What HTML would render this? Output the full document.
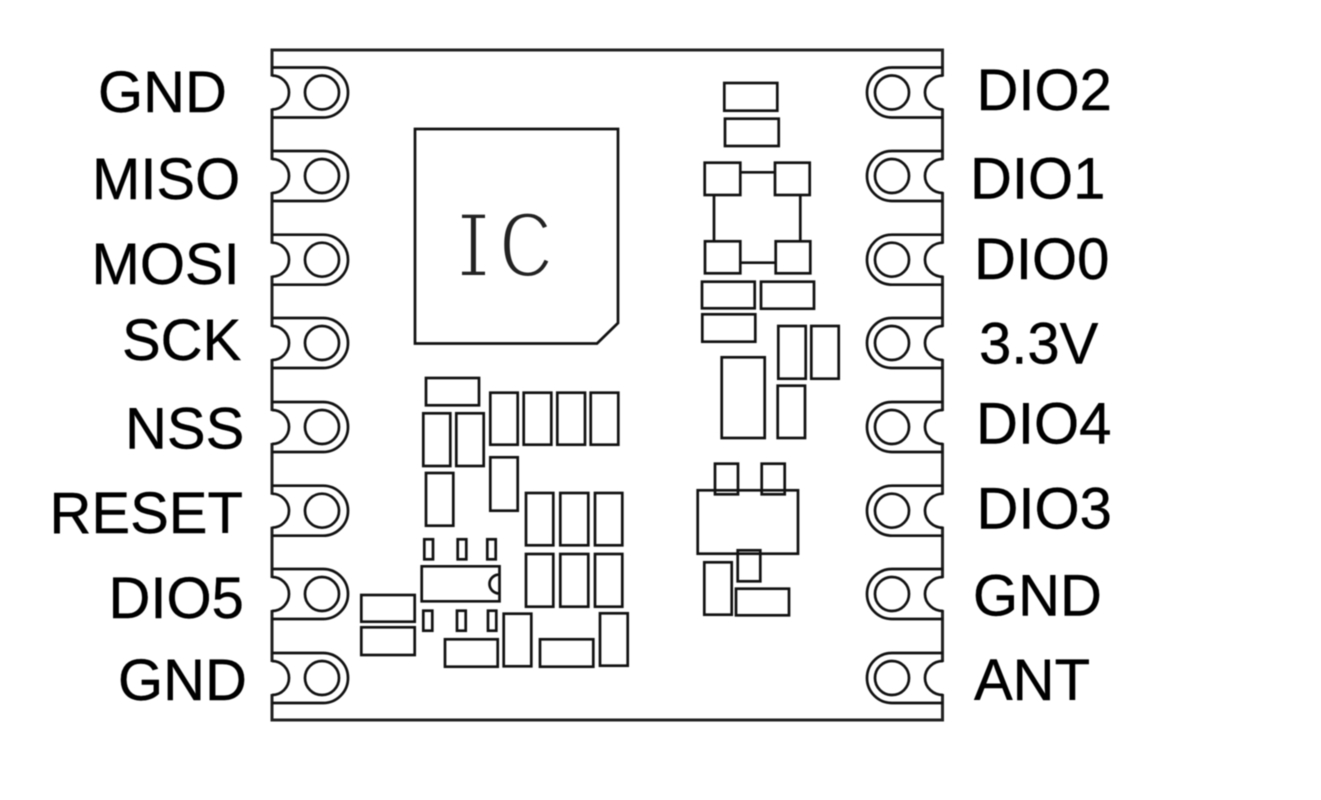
<!DOCTYPE html>
<html>
<head>
<meta charset="utf-8">
<style>
html,body{margin:0;padding:0;background:#fff;width:1321px;height:800px;overflow:hidden}
svg{display:block;filter:blur(.45px)}
text.l{font-family:"Liberation Sans",sans-serif;font-size:58px;fill:#000;stroke:#000;stroke-width:.4}
.s{fill:none;stroke:#111;stroke-width:2.7}
</style>
</head>
<body>
<svg width="1321" height="800" viewBox="0 0 1321 800" xmlns="http://www.w3.org/2000/svg">
<defs>
<g id="pl">
<rect x="269" y="-16" width="6" height="32" fill="#fff"/>
<path class="s" d="M272 -25H323A25 25 0 0 1 323 25H272"/>
<path class="s" d="M272 -17A17 17 0 0 1 272 17"/>
<circle class="s" cx="322" cy="0" r="17"/>
</g>
<g id="pr">
<rect x="940" y="-16" width="6" height="32" fill="#fff"/>
<path class="s" d="M943 -25H892A25 25 0 0 0 892 25H943"/>
<path class="s" d="M943 -17A18 17 0 0 0 943 17"/>
<circle class="s" cx="892" cy="0" r="17"/>
</g>
</defs>
<rect width="1321" height="800" fill="#fff"/>
<rect x="272" y="50" width="670.5" height="670" fill="none" stroke="#222" stroke-width="3"/>

<use href="#pl" y="92.5"/><use href="#pl" y="176"/><use href="#pl" y="259.7"/><use href="#pl" y="343"/>
<use href="#pl" y="427"/><use href="#pl" y="510.7"/><use href="#pl" y="594"/><use href="#pl" y="678"/>
<use href="#pr" y="92.5"/><use href="#pr" y="176"/><use href="#pr" y="259.7"/><use href="#pr" y="343"/>
<use href="#pr" y="427"/><use href="#pr" y="510.7"/><use href="#pr" y="594"/><use href="#pr" y="678"/>

<path class="s" d="M415 129H618V323L597 343.5H415Z"/>
<text x="473.5 526" y="277" text-anchor="middle" font-family="Liberation Mono, monospace" font-size="97" fill="#222" stroke="#fff" stroke-width="4" paint-order="fill">IC</text>
<rect x="450" y="205" width="12" height="80" fill="#fff"/>
<rect x="485" y="205" width="14" height="80" fill="#fff"/>

<g class="s">
<rect x="426" y="378" width="53" height="27.3"/>
<rect x="423.3" y="413.3" width="27" height="52.7"/>
<rect x="456.3" y="413.3" width="27.4" height="52.7"/>
<rect x="426" y="473" width="27.3" height="52.7"/>
<rect x="490.3" y="392.7" width="27.4" height="52"/>
<rect x="523.7" y="392.7" width="27.6" height="52"/>
<rect x="557.3" y="392.7" width="27.7" height="52"/>
<rect x="590.7" y="392.7" width="27.6" height="52"/>
<rect x="490.3" y="457.3" width="27.4" height="53.4"/>
<rect x="526" y="493" width="27.3" height="52.3"/>
<rect x="560.3" y="493" width="28" height="52.3"/>
<rect x="595" y="493" width="27.3" height="52.3"/>
<rect x="526" y="554" width="27.3" height="52.7"/>
<rect x="560.3" y="554" width="28" height="52.7"/>
<rect x="595" y="554" width="27.3" height="52.7"/>
<path d="M499.5 566.3H421.7V601.3H499.5ZM499.5 574.5A10 9.5 0 0 0 499.5 593.5"/>
<rect x="424.3" y="539.3" width="8.7" height="20"/>
<rect x="457.7" y="539.3" width="8.6" height="20"/>
<rect x="487.3" y="539.3" width="8.4" height="20"/>
<rect x="423.3" y="610.7" width="9" height="20"/>
<rect x="457" y="610.7" width="8.7" height="20"/>
<rect x="488" y="610.7" width="8.3" height="20"/>
<rect x="361.3" y="595" width="53.4" height="26.7"/>
<rect x="361.3" y="627.3" width="53.4" height="27.7"/>
<rect x="445" y="639.3" width="52.7" height="27.4"/>
<rect x="503.7" y="613.7" width="27.6" height="52.6"/>
<rect x="540" y="639.3" width="53.3" height="27.4"/>
<rect x="600" y="613.3" width="27.7" height="52.4"/>

<rect x="724.3" y="83" width="53" height="27.7"/>
<rect x="725" y="118.7" width="53.7" height="27.3"/>
<rect x="704.7" y="162.7" width="35.6" height="32.3"/>
<rect x="775" y="162.7" width="34.7" height="32.3"/>
<rect x="705" y="241.3" width="35.3" height="32"/>
<rect x="775.7" y="241.3" width="34.6" height="32"/>
<path d="M740.3 172.3H775M740.3 262.7H775.7M714 195V241.3M800.3 195V241.3"/>
<rect x="702" y="281.7" width="52.7" height="26.6"/>
<rect x="761" y="281.7" width="53" height="27"/>
<rect x="702.3" y="314.3" width="53" height="27.4"/>
<rect x="778.3" y="326" width="27.4" height="52.7"/>
<rect x="811.3" y="326" width="27.4" height="52.7"/>
<rect x="721.7" y="357.3" width="43" height="80.7"/>
<rect x="777.7" y="385.7" width="27.3" height="52.3"/>

<rect x="697.7" y="490.3" width="100.3" height="63.4"/>
<rect x="715" y="463.7" width="23" height="30.6"/>
<rect x="761.7" y="463.7" width="23" height="30.6"/>
<rect x="737.7" y="550.3" width="22.6" height="31"/>
<rect x="704.3" y="562.3" width="27.4" height="52.4"/>
<rect x="736" y="588.7" width="53" height="26.6"/>
</g>

<g>
<text class="l" x="98" y="112">GND</text>
<text class="l" x="92" y="199">MISO</text>
<text class="l" x="91.5" y="284">MOSI</text>
<text class="l" x="122" y="360">SCK</text>
<text class="l" x="125" y="448.5">NSS</text>
<text class="l" x="49.5" y="533">RESET</text>
<text class="l" x="108.5" y="618">DIO5</text>
<text class="l" x="118" y="700">GND</text>

<text class="l" x="976.5" y="110">DIO2</text>
<text class="l" x="970" y="198.5">DIO1</text>
<text class="l" x="974" y="279">DIO0</text>
<text class="l" x="979" y="363.5">3.3V</text>
<text class="l" x="976" y="443.5">DIO4</text>
<text class="l" x="976.5" y="528.5">DIO3</text>
<text class="l" x="973" y="615.5">GND</text>
<text class="l" x="974" y="700">ANT</text>
</g>
</svg>
</body>
</html>
